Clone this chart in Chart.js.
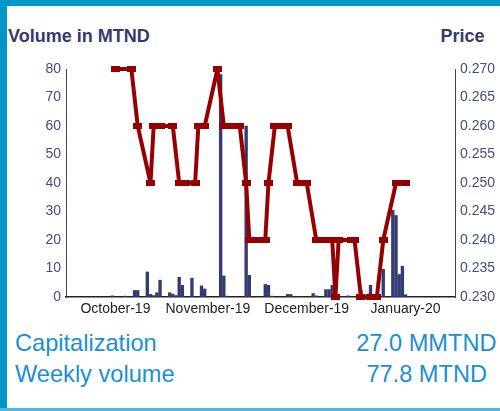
<!DOCTYPE html>
<html><head><meta charset="utf-8">
<script src="https://cdn.jsdelivr.net/npm/chart.js@4"></script>
<style>
html,body{margin:0;padding:0;background:#fff;}
body{width:500px;height:411px;position:relative;overflow:hidden;font-family:"Liberation Sans",Arial,sans-serif;}
#topbar{position:absolute;left:0;top:0;width:500px;height:6px;background:#0096c8;}
#leftbar{position:absolute;left:0;top:0;width:7px;height:409px;background:#0096c8;}
#bottombar{position:absolute;left:0;top:408px;width:500px;height:3px;background:#4fb9df;}
.ttl{position:absolute;font-weight:bold;font-size:18px;line-height:18px;color:#343a6e;white-space:nowrap;}
.info{position:absolute;font-size:23.6px;line-height:24px;color:#1b8fd4;white-space:nowrap;}
#wrap{position:absolute;left:0;top:0;width:500px;height:330px;}
</style>
</head><body>
<div id="topbar"></div>
<div id="leftbar"></div>
<div id="bottombar"></div>
<div class="ttl" style="left:8px;top:26.5px;">Volume in MTND</div>
<div class="ttl" style="right:15.5px;top:26.5px;">Price</div>
<div id="wrap"><canvas id="c" width="500" height="330"></canvas></div>
<div class="info" style="left:15px;top:330.5px;">Capitalization</div>
<div class="info" style="right:3.5px;top:330.5px;">27.0 MMTND</div>
<div class="info" style="left:15px;top:361.5px;">Weekly volume</div>
<div class="info" style="right:13px;top:361.5px;">77.8 MTND</div>
<script>
// Number of day slots on the time axis
const dayCount = 122;
// Month tick labels and the day slot they sit on
const monthLabels = ['October-19','November-19','December-19','January-20'];
const monthDays = [15, 44, 75, 106];
// Daily traded volume (MTND)
const volumeDays = [14,18,21,22,25,26,27,28,29,32,33,34,35,36,39,42,43,48,49,50,56,57,62,63,64,69,70,77,78,81,82,83,88,92,95,99,102,103,104,105,106];
const volumes = [0.4,0.3,2.3,2.3,8.8,0.9,0.5,1.5,5.9,1.5,1.0,0.5,6.9,4.1,6.6,3.9,2.8,78,7.4,0.3,60,7.6,4.4,4.1,0.3,0.9,0.9,1.2,0.4,2.6,2.6,4.1,0.4,2.3,4.1,9.7,30.4,28.6,7.9,10.8,0.8];
// Closing price (TND)
const priceDays = [15,20,22,26,27,29,33,35,37,40,41,43,47,49,51,54,56,57,60,62,63,65,67,69,72,75,78,81,83,84,85,89,90,92,95,97,99,103,106];
const prices = [0.270,0.270,0.260,0.250,0.260,0.260,0.260,0.250,0.250,0.250,0.260,0.260,0.270,0.260,0.260,0.260,0.250,0.240,0.240,0.240,0.250,0.260,0.260,0.260,0.250,0.250,0.240,0.240,0.240,0.230,0.240,0.240,0.240,0.230,0.230,0.230,0.240,0.250,0.250];

const slots = Array.from({length: dayCount}, (_, i) => i);
const volSeries = slots.map(() => null);
volumeDays.forEach((d, i) => { volSeries[d] = volumes[i]; });
const priceSeries = slots.map(() => null);
priceDays.forEach((d, i) => { priceSeries[d] = prices[i]; });
const tickText = slots.map(() => '');
monthDays.forEach((d, i) => { tickText[d] = monthLabels[i]; });

const lineColor = '#960000';
const marker = document.createElement('canvas');
marker.width = 9; marker.height = 6;
const mctx = marker.getContext('2d');
mctx.fillStyle = lineColor; mctx.fillRect(0, 0, 9, 6);

Chart.defaults.font.family = '"Liberation Sans", Arial, sans-serif';
const axisText = '#464c82';

new Chart(document.getElementById('c'), {
  data: {
    labels: slots,
    datasets: [
      { type: 'line', data: priceSeries, yAxisID: 'yp', order: 1, spanGaps: true,
        borderColor: lineColor, borderWidth: 4, pointStyle: marker, pointRadius: 4,
        pointHoverRadius: 4, tension: 0, clip: false, borderJoinStyle: 'round' },
      { type: 'bar', data: volSeries, yAxisID: 'yv', order: 2,
        backgroundColor: '#333b73', barThickness: 2.7 }
    ]
  },
  options: {
    responsive: false, animation: false,
    layout: { padding: { top: 69, left: 0, right: 0, bottom: 0 } },
    plugins: { legend: { display: false }, tooltip: { enabled: false } },
    scales: {
      x: {
        type: 'category', offset: true,
        grid: { drawOnChartArea: false, drawTicks: false },
        border: { display: true, color: '#222', width: 1.5 },
        ticks: { autoSkip: false, maxRotation: 0, minRotation: 0, padding: 4,
          color: '#222', font: { size: 14 },
          callback: (v, i) => tickText[i] },
        afterFit: s => { s.height = 33; }
      },
      yv: {
        position: 'left', min: 0, max: 80,
        grid: { drawOnChartArea: false, drawTicks: false },
        border: { display: true, color: '#3a3f78', width: 1 },
        ticks: { stepSize: 10, padding: 5, color: axisText, font: { size: 14 } },
        afterFit: s => { s.width = 66; }
      },
      yp: {
        position: 'right', min: 0.23, max: 0.27,
        grid: { drawOnChartArea: false, drawTicks: false },
        border: { display: true, color: '#3a3f78', width: 1 },
        ticks: { stepSize: 0.005, padding: 5, color: axisText, font: { size: 14 },
          callback: v => Number(v).toFixed(3) },
        afterFit: s => { s.width = 45; }
      }
    }
  }
});
</script>
</body></html>
